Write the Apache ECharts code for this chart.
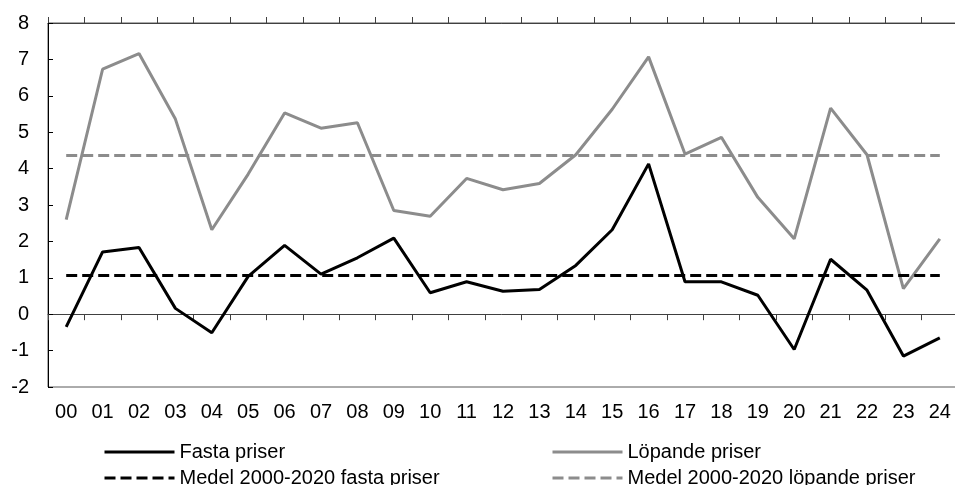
<!DOCTYPE html>
<html>
<head>
<meta charset="utf-8">
<script src="https://cdn.jsdelivr.net/npm/echarts@6/dist/echarts.min.js"></script>
<style>
  html, body { margin: 0; padding: 0; background: #fff; }
  #chart { width: 955px; height: 485px; }
</style>
</head>
<body>
<div id="chart"></div>
<script>
var years = ['00','01','02','03','04','05','06','07','08','09','10','11','12',
             '13','14','15','16','17','18','19','20','21','22','23','24'];
var fasta = [-0.35, 1.71, 1.83, 0.16, -0.51, 1.04, 1.89, 1.10, 1.55, 2.09, 0.59, 0.89, 0.63,
             0.68, 1.34, 2.32, 4.13, 0.89, 0.89, 0.52, -0.97, 1.51, 0.66, -1.15, -0.65];
var lopande = [2.60, 6.73, 7.16, 5.36, 2.32, 3.85, 5.53, 5.11, 5.26, 2.85, 2.69, 3.73, 3.42,
               3.59, 4.38, 5.63, 7.07, 4.40, 4.86, 3.21, 2.07, 5.66, 4.38, 0.70, 2.07];
var medelFasta = 1.07;
var medelLopande = 4.38;

var GRAY = '#8c8c8c';
var FONT = 'Liberation Sans, Arial, sans-serif';

function meanLine(val, color) {
  return {
    symbol: 'none',
    silent: true,
    label: { show: false },
    lineStyle: { color: color, width: 3, type: [11, 5] },
    data: [[{ coord: [years[0], val] }, { coord: [years[years.length - 1], val] }]]
  };
}

function legendAt(name, left, top, dashed) {
  return {
    data: [name],
    left: left,
    top: top,
    itemWidth: 70,
    itemHeight: 4,
    itemGap: 0,
    itemStyle: { opacity: 0 },
    lineStyle: { width: 3, type: dashed ? [11, 5] : 'solid' },
    textStyle: { fontFamily: FONT, fontSize: 20, color: '#000' },
    selectedMode: false
  };
}

var chart = echarts.init(document.getElementById('chart'));
var option = {
  animation: false,
  grid: {
    left: 48,
    top: 23,
    width: 910,
    height: 364,
    outerBoundsMode: 'none',
    containLabel: false,
    show: true,
    borderColor: '#595959',
    borderWidth: 1
  },
  legend: [
    legendAt('Fasta priser', 98, 437, false),
    legendAt('Löpande priser', 546, 437, false),
    legendAt('Medel 2000-2020 fasta priser', 98, 463, true),
    legendAt('Medel 2000-2020 löpande priser', 546, 463, true)
  ],
  xAxis: [{
    type: 'category',
    data: years,
    position: 'bottom',
    axisLine: { onZero: true, lineStyle: { color: '#404040', width: 1 } },
    axisTick: { show: true, length: 6, lineStyle: { color: '#404040' } },
    axisLabel: { margin: 15, fontFamily: FONT, fontSize: 20, color: '#000', interval: 0 },
    splitLine: { show: false }
  }, {
    type: 'category',
    data: years,
    position: 'top',
    axisLine: { onZero: true, lineStyle: { color: '#404040', width: 1 } },
    axisTick: { show: true, length: 6, lineStyle: { color: '#404040' } },
    axisLabel: { show: false },
    splitLine: { show: false }
  }],
  yAxis: {
    type: 'value',
    min: -2,
    max: 8,
    interval: 1,
    axisLine: { show: true, lineStyle: { color: '#000', width: 1 } },
    axisTick: { show: true, inside: true, length: 5, lineStyle: { color: '#000' } },
    axisLabel: { margin: 19, fontFamily: FONT, fontSize: 20, color: '#000' },
    splitLine: { show: false }
  },
  series: [{
    name: 'Fasta priser',
    type: 'line',
    data: fasta,
    symbol: 'none',
    color: '#000',
    lineStyle: { color: '#000', width: 3 },
    z: 4
  }, {
    name: 'Löpande priser',
    type: 'line',
    data: lopande,
    symbol: 'none',
    color: GRAY,
    lineStyle: { color: GRAY, width: 3 },
    z: 3
  }, {
    name: 'Medel 2000-2020 fasta priser',
    type: 'line',
    data: [],
    symbol: 'none',
    color: '#000',
    lineStyle: { color: '#000', width: 3, type: [11, 5] },
    markLine: meanLine(medelFasta, '#000'),
    z: 2
  }, {
    name: 'Medel 2000-2020 löpande priser',
    type: 'line',
    data: [],
    symbol: 'none',
    color: GRAY,
    lineStyle: { color: GRAY, width: 3, type: [11, 5] },
    markLine: meanLine(medelLopande, GRAY),
    z: 2
  }]
};
chart.setOption(option);
</script>
</body>
</html>
